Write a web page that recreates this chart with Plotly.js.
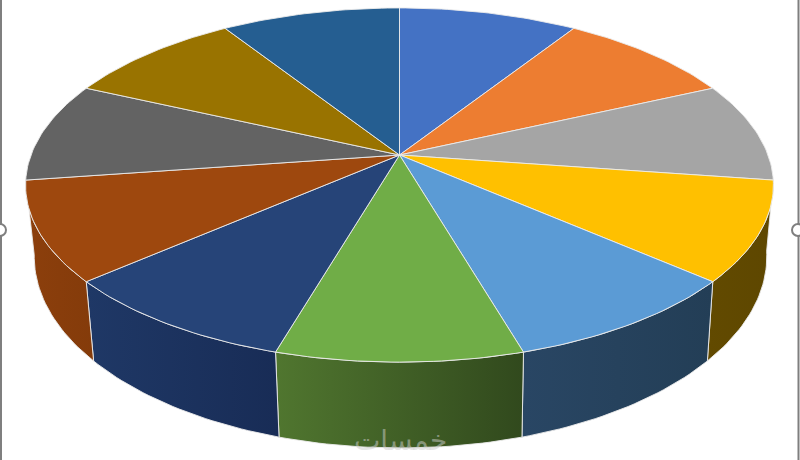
<!DOCTYPE html>
<html><head><meta charset="utf-8">
<script src="https://cdn.plot.ly/plotly-3.0.1.min.js"></script>
<style>html,body{margin:0;padding:0;background:#fff}#c{width:800px;height:460px}</style>
</head><body><div id="c"></div>
<script>
// data: eleven equal slices, clockwise from 12 o'clock
const labels = ['1','2','3','4','5','6','7','8','9','10','11'];
const values = [1,1,1,1,1,1,1,1,1,1,1];
const topColors = ['#4472C4','#ED7D31','#A5A5A5','#FFC000','#5B9BD5','#70AD47','#264478','#9E480E','#636363','#997300','#255E91'];
// side wall gradient (left colour, right colour); null = wall faces away
const wallColors = [null,null,null,['#624A00','#5E4700'],['#294664','#233E56'],['#50762F','#31491D'],['#1F3866','#182C56'],['#8C3F0C','#843B0A'],null,null,null];

// projection of the tilted disc
const persp = 0.1695;
const topRim = {cx:399.5, cy:155, a:368.5, b:172};
const botRim = {cx:400.5, cy:224, a:361, b:186};
const edge = 'rgba(235,235,235,0.9)';

function project(r, t){
  const w = 1 + persp*Math.cos(t);
  return [r.cx + r.a*Math.sin(t)/w, r.cy - r.b*Math.cos(t)/w];
}
function arc(r, t0, t1, n){
  const out = [];
  for(let i=0;i<=n;i++) out.push(project(r, t0+(t1-t0)*i/n));
  return out;
}
const total = values.reduce((a,b)=>a+b,0);
let acc = 0;
const angles = values.map(v=>{const s=acc/total*2*Math.PI; acc+=v; return [s, acc/total*2*Math.PI];});

const walls = [], tops = [];
angles.forEach(([t0,t1],i)=>{
  const wc = wallColors[i];
  if(wc){
    const pts = arc(topRim,t0,t1,30).concat(arc(botRim,t1,t0,30));
    pts.push(pts[0]);
    walls.push({type:'scatter',mode:'lines',name:labels[i],x:pts.map(p=>p[0]),y:pts.map(p=>p[1]),
      fill:'toself',fillcolor:wc[0],
      fillgradient:{type:'horizontal',colorscale:[[0,wc[0]],[1,wc[1]]]},
      line:{color:edge,width:1},hoverinfo:'skip',showlegend:false});
  }
  const pts = [[topRim.cx,topRim.cy]].concat(arc(topRim,t0,t1,30));
  pts.push(pts[0]);
  tops.push({type:'scatter',mode:'lines',name:labels[i],x:pts.map(p=>p[0]),y:pts.map(p=>p[1]),
    fill:'toself',fillcolor:topColors[i],line:{color:edge,width:1},hoverinfo:'name',showlegend:false});
});

const frame = '#7f7f7f';
const layout = {
  width:800,height:460,margin:{l:0,r:0,t:0,b:0},paper_bgcolor:'#fff',plot_bgcolor:'#fff',
  xaxis:{range:[0,800],visible:false,fixedrange:true},
  yaxis:{range:[460,0],visible:false,fixedrange:true},
  showlegend:false,
  shapes:[
    {type:'line',xref:'x',yref:'y',x0:1,x1:1,y0:0,y1:460,line:{color:frame,width:2}},
    {type:'line',xref:'x',yref:'y',x0:798.5,x1:798.5,y0:0,y1:460,line:{color:frame,width:2}},
    {type:'circle',xref:'x',yref:'y',x0:-6,x1:6,y0:224,y1:236,fillcolor:'#fff',line:{color:frame,width:2}},
    {type:'circle',xref:'x',yref:'y',x0:792,x1:804,y0:224,y1:236,fillcolor:'#fff',line:{color:frame,width:2}}
  ],
  annotations:[{xref:'x',yref:'y',x:400,y:440,text:'خمسات',showarrow:false,
    font:{family:'DejaVu Sans, Noto Sans',size:28,color:'rgba(205,205,205,0.5)'}}]
};
Plotly.newPlot('c',walls.concat(tops),layout,{displayModeBar:false,staticPlot:true});
</script></body></html>
